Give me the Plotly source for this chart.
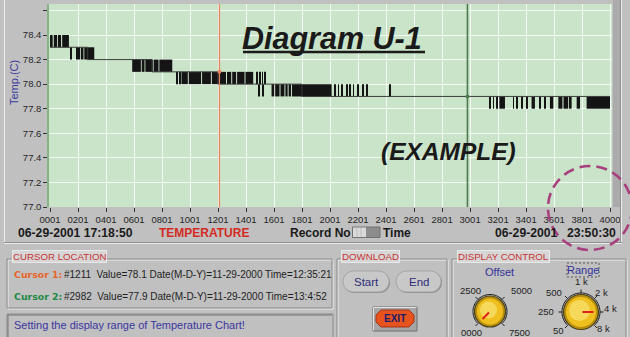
import math
import plotly.graph_objects as go

# ---------------- data ----------------
# hold level of the temperature reading (°C); the value steps at these records
step_rec = [1, 270, 730, 1200, 1800, 4000]
step_val = [78.3, 78.2, 78.1, 78.0, 77.9, 77.9]

# record spans in which the reading flickers between LOW and LOW + 0.1 °C
resolution = 0.1
flicker_lows = [78.3, 78.2, 78.1, 78.0, 77.9, 77.8]
flicker_783 = [(1, 20), (28, 52), (58, 80), (88, 136)]
flicker_782 = [(148, 154), (193, 199), (208, 214), (221, 240), (246, 317)]
flicker_781 = [(588, 650), (656, 676), (682, 735), (741, 776), (782, 874)]
flicker_780 = [(905, 911), (924, 930), (940, 985), (992, 1080), (1087, 1150),
               (1157, 1258), (1265, 1295), (1302, 1330), (1337, 1390),
               (1397, 1452), (1474, 1480), (1498, 1504), (1515, 1521), (1533, 1539)]
flicker_779 = [(1491, 1497), (1522, 1528), (1583, 1602), (1609, 1640), (1647, 1675),
               (1682, 1698), (1705, 1722), (1729, 2012), (2034, 2040), (2058, 2064),
               (2081, 2087), (2117, 2123), (2141, 2147), (2165, 2171), (2200, 2206),
               (2236, 2242), (2260, 2266), (2427, 2433)]
flicker_778 = [(3141, 3147), (3165, 3171), (3188, 3194), (3210, 3250), (3308, 3314),
               (3331, 3337), (3367, 3373), (3403, 3409), (3440, 3464), (3498, 3504),
               (3534, 3540), (3571, 3595), (3631, 3660), (3668, 3700), (3706, 3726),
               (3762, 3786), (3833, 4000)]
flicker_spans = [flicker_783, flicker_782, flicker_781, flicker_780, flicker_779, flicker_778]

# cursors
cursor_rec = [1211, 2982]
cursor_val = [78.1, 77.9]
cursor_date = ["11-29-2000", "11-29-2000"]
cursor_time = ["12:35:21", "13:4:52"]

# axes
x_tick_rec = [1, 201, 401, 601, 801, 1001, 1201, 1401, 1601, 1801, 2001,
              2201, 2401, 2601, 2801, 3001, 3201, 3401, 3601, 3801, 4000]
x_tick_text = ["%04d" % r for r in x_tick_rec]
y_tick_val = [77.0, 77.2, 77.4, 77.6, 77.8, 78.0, 78.2, 78.4, 78.6]
y_tick_text = ["77.0", "77.2", "77.4", "77.6", "77.8", "78.0", "78.2", "78.4", ""]

start_stamp = "06-29-2001 17:18:50"
end_date = "06-29-2001"
end_time = "23:50:30"

# display control knobs
offset_labels = ["0000", "2500", "5000", "7500"]
offset_marks = [0, 2500, 5000, 7500]
offset_value = 0
range_labels = ["50", "250", "500", "1 k", "2 k", "4 k", "8 k"]
range_marks = [50, 250, 500, 1000, 2000, 4000, 8000]
range_value = 4000

# ---------------- page geometry (pixels) ----------------
W, H = 630, 337
PL, PR, PT, PB = 49, 612, 4, 207


def fx(px):
    return (px - PL) / (PR - PL)


def fy(py):
    return (PB - py) / (PB - PT)


SANS = "Liberation Sans, Arial, sans-serif"
ROUND = "DejaVu Sans, Verdana, sans-serif"
GRAY = "#c0c0c0"

shapes = []
annotations = []


def rect(x0, y0, x1, y1, fill=None, line=None, width=1, layer="above", dash=None):
    s = dict(type="rect", xref="paper", yref="paper",
             x0=fx(x0), x1=fx(x1), y0=fy(y1), y1=fy(y0), layer=layer,
             fillcolor=fill if fill else "rgba(0,0,0,0)",
             line=dict(color=line if line else "rgba(0,0,0,0)", width=width if line else 0))
    if dash:
        s["line"]["dash"] = dash
    shapes.append(s)


def seg(x0, y0, x1, y1, color, width=1, dash=None, layer="above"):
    s = dict(type="line", xref="paper", yref="paper",
             x0=fx(x0), y0=fy(y0), x1=fx(x1), y1=fy(y1), layer=layer,
             line=dict(color=color, width=width))
    if dash:
        s["line"]["dash"] = dash
    shapes.append(s)


def circle(cx, cy, r, fill=None, line=None, width=1, dash=None):
    s = dict(type="circle", xref="paper", yref="paper",
             x0=fx(cx - r), x1=fx(cx + r), y0=fy(cy + r), y1=fy(cy - r),
             fillcolor=fill if fill else "rgba(0,0,0,0)",
             line=dict(color=line if line else "rgba(0,0,0,0)", width=width if line else 0))
    if dash:
        s["line"]["dash"] = dash
    shapes.append(s)


def poly(points, fill=None, line=None, width=1, closed=True):
    d = "M " + " L ".join("%.5f,%.5f" % (fx(x), fy(y)) for x, y in points)
    if closed:
        d += " Z"
    shapes.append(dict(type="path", xref="paper", yref="paper", path=d,
                       fillcolor=fill if fill else "rgba(0,0,0,0)",
                       line=dict(color=line if line else "rgba(0,0,0,0)", width=width if line else 0)))


def arc_pts(cx, cy, r, a0, a1, n=40):
    return [(cx + r * math.cos(math.radians(a0 + (a1 - a0) * i / n)),
             cy - r * math.sin(math.radians(a0 + (a1 - a0) * i / n))) for i in range(n + 1)]


def text(px, py, s, size=10, color="#1a1a1a", anchor="left", weight="normal",
         style="normal", family=SANS, angle=0, **kw):
    annotations.append(dict(x=fx(px), y=fy(py), xref="paper", yref="paper", text=s,
                            showarrow=False, xanchor=anchor, yanchor="middle",
                            textangle=angle, borderpad=0,
                            font=dict(size=size, color=color, family=family,
                                      weight=weight, style=style), **kw))


def groove(x0, y0, x1, y1):
    rect(x0 + 1, y0 + 1, x1 + 1, y1 + 1, line="#f0f0f0", width=1)
    rect(x0, y0, x1, y1, line="#8a8a8a", width=1)


# ---------------- chart panel decoration ----------------
rect(613, 0, 621, PB, fill="#ababab", layer="below")
seg(4.5, 0, 4.5, 243, "#ececec", 1)
seg(621.5, 0, 621.5, 243, "#ececec", 1)
seg(620.5, 0, 620.5, 243, "#8e8e8e", 1)
seg(4, 243.5, 622, 243.5, "#ececec", 1)
seg(4, 242.5, 622, 242.5, "#8e8e8e", 1)

text(14, 83, "Temp.(C)", size=11, color="#3b3a9c", anchor="center", angle=-90)

# titles inside the chart
text(241, 38, "Diagram U-1", size=30.5, color="#1a1a1a", weight="bold", style="italic")
seg(243, 52, 425, 52, "#1a1a1a", 2.6)
text(380, 151, "(EXAMPLE)", size=24.5, color="#1a1a1a", weight="bold", style="italic")

# status row under the chart
text(17, 232.5, start_stamp, size=12.2, weight="bold")
text(158, 232.5, "TEMPERATURE", size=12, color="#d42a22", weight="bold")
text(289, 232.5, "Record No", size=12, weight="bold")
rect(352.5, 227, 380, 237.5, fill="#8c8c8c", line="#707070", width=1)
rect(353, 227.5, 366, 237, fill="#d9d9d9")
seg(357, 228, 357, 236.5, "#bdbdbd", 1)
seg(361, 228, 361, 236.5, "#bdbdbd", 1)
text(382, 232.5, "Time", size=12, weight="bold")
text(494, 232.5, end_date, size=12.2, weight="bold")
text(566, 232.5, end_time, size=12.2, weight="bold")

# ---------------- lower control panel ----------------
groove(7, 259, 332, 308)
text(12, 256, "CURSOR LOCATION", size=9.7, color="#c83232", bgcolor="#d6d6d6",
     bordercolor="#e8e8e8", borderwidth=1)
row_y = [274.5, 296]
row_col = ["#e8642a", "#1e8a46"]
for i in range(2):
    text(13, row_y[i], "Cursor %d:" % (i + 1), size=9.4, color=row_col[i],
         weight="bold", family=ROUND)
    text(63, row_y[i], "#%d  Value=%.1f Date(M-D-Y)=%s Time=%s"
         % (cursor_rec[i], cursor_val[i], cursor_date[i], cursor_time[i]),
         size=10, color="#1e1e1e")

# message box
rect(7, 314, 333, 340, line="#8a8a8a", width=1)
seg(8, 315, 332, 315, "#777777", 1)
seg(8, 315, 8, 337, "#777777", 1)
text(13, 325, "Setting the display range of Temperature Chart!", size=11, color="#3a36a0")

# download group
groove(337, 259, 447, 340)
text(341, 256, "DOWNLOAD", size=9.7, color="#c83232", bgcolor="#d6d6d6",
     bordercolor="#e8e8e8", borderwidth=1)


def pill(x0, y0, x1, y1, label):
    r = (y1 - y0) / 2.0
    pts = [(x0 + r, y0), (x1 - r, y0)] + arc_pts(x1 - r, y0 + r, r, 90, -90, 16) + \
          [(x0 + r, y1)] + arc_pts(x0 + r, y0 + r, r, 270, 90, 16)
    poly([(x + 1, y + 1) for x, y in pts], fill="#8e8e8e")
    poly(pts, fill="#c8c8c8", line="#a2a2a2", width=1)
    text((x0 + x1) / 2, (y0 + y1) / 2 + 0.5, label, size=11.5, color="#2e2e7a", anchor="center")


pill(343, 271, 389, 292, "Start")
pill(396, 271, 441, 292, "End")

rect(373, 307, 417, 331, fill="#a6a6a6", line="#6c6c6c", width=1)
seg(373.5, 307.5, 416.5, 307.5, "#e2e2e2", 1)
seg(373.5, 307.5, 373.5, 330.5, "#e2e2e2", 1)
cx_e, cy_e, hw, hh, cut = 395, 318.5, 19, 8.5, 5
poly([(cx_e - hw + cut, cy_e - hh), (cx_e + hw - cut, cy_e - hh), (cx_e + hw, cy_e - hh + cut),
      (cx_e + hw, cy_e + hh - cut), (cx_e + hw - cut, cy_e + hh), (cx_e - hw + cut, cy_e + hh),
      (cx_e - hw, cy_e + hh - cut), (cx_e - hw, cy_e - hh + cut)],
     fill="#e6531c", line="#a33414", width=1)
text(395, 318.5, "EXIT", size=10, color="#1c1c6c", anchor="center", weight="bold")

# display control group
groove(452, 259, 626, 340)
text(457, 256, "DISPLAY CONTROL", size=9.7, color="#c83232", bgcolor="#d6d6d6",
     bordercolor="#e8e8e8", borderwidth=1)
text(499, 272, "Offset", size=11, color="#32329a", anchor="center")
rect(567, 263, 599, 277, line="#555555", width=1, dash="2px,2px")
text(583, 270, "Range", size=11, color="#32329a", anchor="center")


def knob(cx, cy, r, label_angles, label_pos, labels, pointer_angle):
    poly(arc_pts(cx, cy, r + 1.5, 225, -45, 60), line="#1a1a1a", width=1, closed=False)
    for a in label_angles:
        ca, sa = math.cos(math.radians(a)), math.sin(math.radians(a))
        seg(cx + (r + 1.5) * ca, cy - (r + 1.5) * sa, cx + (r + 5) * ca, cy - (r + 5) * sa, "#1a1a1a", 1)
    for (lx, ly), lab in zip(label_pos, labels):
        text(lx, ly, lab, size=9.5, color="#222222", anchor="center")
    circle(cx, cy, r, fill="#b8900e", line="#4a4020", width=1.2)
    circle(cx, cy, r - 2.5, fill="#eebf1f")
    circle(cx - 1.5, cy - 1.5, r - 7, fill="#f6d85a")
    ca, sa = math.cos(math.radians(pointer_angle)), math.sin(math.radians(pointer_angle))
    seg(cx + 1.5 * ca, cy - 1.5 * sa, cx + (r - 5) * ca, cy - (r - 5) * sa, "#e0201a", 2)


off_angles = [225 - v / 2500.0 * 90 for v in offset_marks]
off_ptr = 225 - offset_value / 2500.0 * 90
knob(490, 311.5, 15.5, off_angles,
     [(470, 290.5), (521, 290.5), (471, 332.5), (519, 332.5)],
     [offset_labels[1], offset_labels[2], offset_labels[0], offset_labels[3]], off_ptr)

rng_angles = [225 - 45 * i for i in range(len(range_marks))]
k = max(i for i in range(len(range_marks) - 1) if range_marks[i] <= range_value)
frac = math.log(range_value / range_marks[k]) / math.log(range_marks[k + 1] / range_marks[k])
rng_ptr = rng_angles[k] + (rng_angles[k + 1] - rng_angles[k]) * min(frac, 1.0)
knob(581, 312, 17.5, rng_angles,
     [(558, 330), (546, 311.5), (554, 292), (581, 281.5), (601, 292), (610, 308), (603, 328.5)],
     range_labels, rng_ptr)

# dashed highlight circle around the end time stamp
circle(590, 208, 42, line="#a8407e", width=2.6, dash="11px,6px")

# ---------------- figure ----------------
fig = go.Figure()

bx, bw, bb = [], [], []
for low, spans in zip(flicker_lows, flicker_spans):
    for s, e in spans:
        bx.append((s + e) / 2.0)
        bw.append(e - s)
        bb.append(low)
fig.add_trace(go.Bar(x=bx, y=[resolution] * len(bx), base=bb, width=bw,
                     marker=dict(color="#141414", line=dict(width=0)),
                     hoverinfo="skip", showlegend=False))
fig.add_trace(go.Scatter(x=step_rec, y=step_val, mode="lines", line_shape="hv",
                         line=dict(color="#3c3c3c", width=1), hoverinfo="skip", showlegend=False))

cur_colors = ["#e3845e", "#4e7c4e"]
cur_widths = [1.3, 1.6]
for i in range(2):
    shapes.append(dict(type="line", xref="x", yref="paper", x0=cursor_rec[i], x1=cursor_rec[i],
                       y0=0, y1=1, line=dict(color=cur_colors[i], width=cur_widths[i]), layer="above"))
fig.add_trace(go.Scatter(x=cursor_rec, y=cursor_val, mode="markers",
                         marker=dict(size=4, color=cur_colors), hoverinfo="skip", showlegend=False))

px_per_rec = 560.0 / 3999.0
x_lo = 1 - (50 - PL) / px_per_rec
x_hi = 4000 + (PR - 610) / px_per_rec
y_per_px = 0.1 / 12.286
y_top = 77.0 + (PB - PT) * y_per_px

fig.update_layout(
    width=W, height=H, autosize=False,
    margin=dict(l=PL, r=W - PR, t=PT, b=H - PB, pad=0),
    paper_bgcolor=GRAY, plot_bgcolor="#c9e4c9",
    barmode="overlay", showlegend=False,
    shapes=shapes, annotations=annotations,
    xaxis=dict(range=[x_lo, x_hi], tickvals=x_tick_rec, ticktext=x_tick_text,
               showgrid=True, gridcolor="#f3f9f3", gridwidth=1.2, zeroline=False,
               ticks="outside", ticklen=4, tickwidth=1, tickcolor="#333333",
               tickfont=dict(size=9.5, color="#262626", family=SANS), showline=False,
               fixedrange=True),
    yaxis=dict(range=[77.0, y_top], tickvals=y_tick_val, ticktext=y_tick_text,
               showgrid=True, gridcolor="#f3f9f3", gridwidth=1.2, zeroline=False,
               ticks="outside", ticklen=4, tickwidth=1, tickcolor="#333333",
               tickfont=dict(size=9.5, color="#262626", family=SANS),
               showline=True, linecolor="#86b486", linewidth=1.5, fixedrange=True),
)

fig.write_html("out.html")
